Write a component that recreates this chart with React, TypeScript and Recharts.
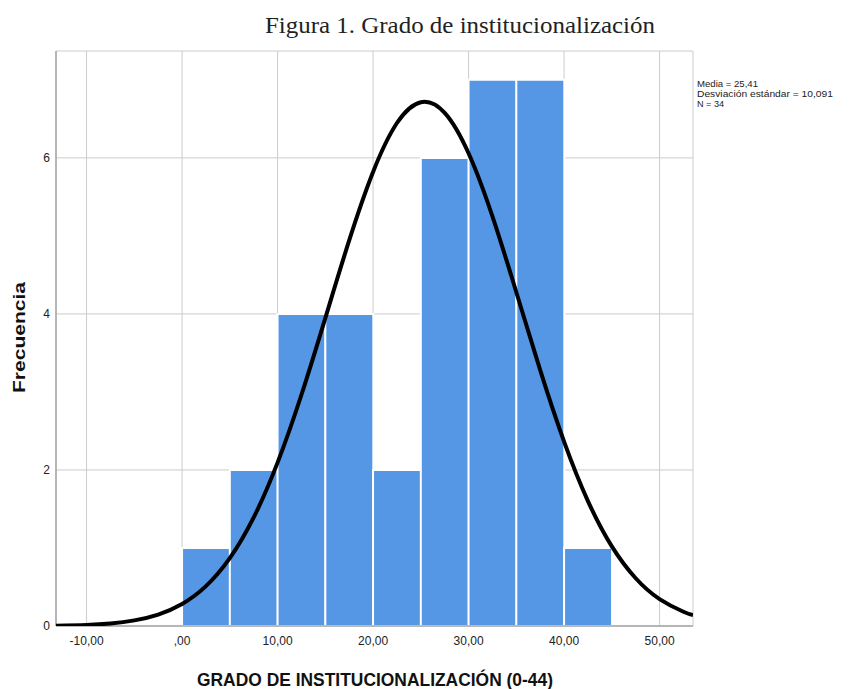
import React from 'react';
import { ComposedChart, Bar, Line, XAxis, YAxis, CartesianGrid } from 'recharts';

// histogram bins (centre of each 5-wide bin) and counts
const binCenters = [2.5, 7.5, 12.5, 17.5, 22.5, 27.5, 32.5, 37.5, 42.5];
const binCounts = [1, 2, 4, 4, 2, 6, 7, 7, 1];

// normal curve
const curveX = [-13.2, -10, -7.5, -5, -2.5, 0, 2.5, 5, 7.5, 10, 12.5, 15, 17.5, 20, 22.5, 25, 27.5, 30, 32.5, 35, 37.5, 40, 42.5, 45, 47.5, 50, 52.5, 53.5];
const curveY = [0.004, 0.014, 0.033, 0.072, 0.147, 0.282, 0.511, 0.869, 1.391, 2.094, 2.964, 3.947, 4.943, 5.82, 6.447, 6.714, 6.577, 6.059, 5.25, 4.278, 3.279, 2.363, 1.601, 1.021, 0.612, 0.345, 0.183, 0.14];

const xTicks = [-10, 0, 10, 20, 30, 40, 50];
const yTicks = [0, 2, 4, 6];

const statsLines = ['Media = 25,41', 'Desviación estándar = 10,091', 'N = 34'];

const barData = binCenters.map((x, i) => ({ x, count: binCounts[i] }));
const curveData = curveX.map((x, i) => ({ x, y: curveY[i] }));

const fmtX = (v: number) => (v === 0 ? ',00' : v.toFixed(2).replace('.', ','));

const X_DOMAIN: [number, number] = [-13.2, 53.5];
const Y_DOMAIN: [number, number] = [0, 7.37];
const BAR_COLOR = '#5596e5';
const GRID = '#cccccc';
const AXIS = '#a6a6a6';
const SANS = 'Arial, "Liberation Sans", sans-serif';

export default function App() {
  return (
    <div style={{ position: 'absolute', left: 0, top: 0, width: 860, height: 689, background: '#fff' }}>
      {/* histogram, grid and axes */}
      <ComposedChart
        width={860}
        height={689}
        data={barData}
        margin={{ top: 51, right: 167, bottom: 33, left: 36 }}
        barCategoryGap={0}
        barGap={0}
      >
        <CartesianGrid stroke={GRID} strokeWidth={1} />
        <XAxis
          dataKey="x"
          type="number"
          domain={X_DOMAIN}
          ticks={xTicks}
          tickFormatter={fmtX}
          allowDataOverflow
          height={30}
          tickLine={false}
          tickSize={6}
          tickMargin={4}
          axisLine={{ stroke: AXIS, strokeWidth: 1.5 }}
          tick={{ fontSize: 12, fill: '#222', fontFamily: SANS }}
        />
        <YAxis
          type="number"
          domain={Y_DOMAIN}
          ticks={yTicks}
          allowDataOverflow
          width={20}
          tickLine={false}
          tickSize={4}
          tickMargin={2}
          axisLine={{ stroke: AXIS, strokeWidth: 1.5 }}
          tick={{ fontSize: 12, fill: '#222', fontFamily: SANS }}
        />
        <Bar
          dataKey="count"
          fill={BAR_COLOR}
          stroke="#ffffff"
          strokeWidth={2}
          isAnimationActive={false}
        />
      </ComposedChart>

      {/* normal curve on the same scales, drawn on top */}
      <div style={{ position: 'absolute', left: 0, top: 0 }}>
        <ComposedChart
          width={860}
          height={689}
          data={curveData}
          margin={{ top: 51, right: 167, bottom: 63, left: 56 }}
        >
          <XAxis dataKey="x" type="number" domain={X_DOMAIN} allowDataOverflow hide />
          <YAxis type="number" domain={Y_DOMAIN} allowDataOverflow hide />
          <Line
            dataKey="y"
            type="natural"
            stroke="#000"
            strokeWidth={4}
            dot={false}
            activeDot={false}
            isAnimationActive={false}
          />
        </ComposedChart>
      </div>

      <svg width={860} height={689} style={{ position: 'absolute', left: 0, top: 0, pointerEvents: 'none' }}>
        <text
          x={265}
          y={33}
          fontFamily='"Liberation Serif", "Times New Roman", serif'
          fontSize={23}
          fill="#222"
          textLength={390}
          lengthAdjust="spacingAndGlyphs"
        >
          Figura 1. Grado de institucionalización
        </text>
        <text
          x={197}
          y={686}
          fontFamily={SANS}
          fontWeight="bold"
          fontSize={19}
          fill="#111"
          textLength={356}
          lengthAdjust="spacingAndGlyphs"
        >
          GRADO DE INSTITUCIONALIZACIÓN (0-44)
        </text>
        <text
          transform="translate(25 393) rotate(-90)"
          fontFamily={SANS}
          fontWeight="bold"
          fontSize={17}
          fill="#111"
          textLength={111}
          lengthAdjust="spacingAndGlyphs"
        >
          Frecuencia
        </text>
        {statsLines.map((s, i) => (
          <text
            key={s}
            x={697}
            y={87 + i * 10.2}
            fontFamily={SANS}
            fontSize={9}
            fill="#222"
            textLength={[61, 136, 27][i]}
            lengthAdjust="spacingAndGlyphs"
          >
            {s}
          </text>
        ))}
      </svg>
    </div>
  );
}
